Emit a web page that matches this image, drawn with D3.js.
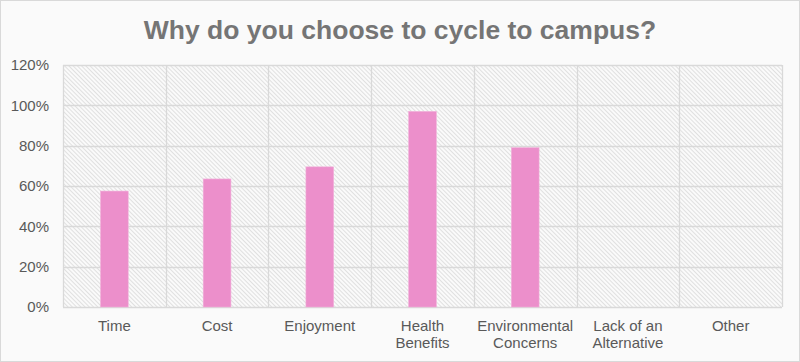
<!DOCTYPE html>
<html>
<head>
<meta charset="utf-8">
<script src="https://cdnjs.cloudflare.com/ajax/libs/d3/7.8.5/d3.min.js"></script>
<style>
  html, body { margin: 0; padding: 0; background: #fff; }
  svg { display: block; font-family: "Liberation Sans", Arial, sans-serif; }
</style>
</head>
<body>
<div id="chart"></div>
<script>
const categories = [
  ['Time'],
  ['Cost'],
  ['Enjoyment'],
  ['Health', 'Benefits'],
  ['Environmental', 'Concerns'],
  ['Lack of an', 'Alternative'],
  ['Other']
];
const values = [0.575, 0.635, 0.695, 0.97, 0.79, 0, 0];
const yTicks = [0, 0.2, 0.4, 0.6, 0.8, 1.0, 1.2];

const width = 800, height = 362;
const margin = { top: 65, right: 18, bottom: 55, left: 63 };

const svg = d3.select('#chart').append('svg')
    .attr('width', width)
    .attr('height', height);

// hatching used in the plot area
const defs = svg.append('defs');
defs.append('pattern')
    .attr('id', 'plotHatch')
    .attr('patternUnits', 'userSpaceOnUse')
    .attr('width', 3)
    .attr('height', 3)
    .attr('patternTransform', 'rotate(-45)')
    .append('rect')
    .attr('x', 0)
    .attr('y', 0)
    .attr('width', 1)
    .attr('height', 3)
    .attr('fill', '#e0e0e0');

svg.append('rect')
    .attr('x', 0.5).attr('y', 0.5)
    .attr('width', width - 1).attr('height', height - 1)
    .attr('fill', '#fafafa')
    .attr('stroke', '#d9d9d9');

svg.append('text')
    .attr('x', width / 2)
    .attr('y', 39)
    .attr('text-anchor', 'middle')
    .style('font-size', '26.5px')
    .style('font-weight', 'bold')
    .style('fill', '#757575')
    .text('Why do you choose to cycle to campus?');

const innerW = width - margin.left - margin.right;
const innerH = height - margin.top - margin.bottom;

const g = svg.append('g')
    .attr('transform', `translate(${margin.left},${margin.top})`);

const x = d3.scaleBand()
    .domain(d3.range(categories.length))
    .range([0, innerW]);

const y = d3.scaleLinear()
    .domain([0, 1.2])
    .range([innerH, 0]);

g.append('rect')
    .attr('width', innerW)
    .attr('height', innerH)
    .attr('fill', 'url(#plotHatch)');

// horizontal gridlines
g.selectAll('line.hgrid')
    .data(yTicks)
    .enter().append('line')
    .attr('class', 'hgrid')
    .attr('x1', 0).attr('x2', innerW)
    .attr('y1', d => Math.round(y(d)) + 0.5)
    .attr('y2', d => Math.round(y(d)) + 0.5)
    .attr('stroke', '#d9d9d9')
    .attr('stroke-width', 1.3);

// vertical gridlines at category boundaries
g.selectAll('line.vgrid')
    .data(d3.range(categories.length + 1))
    .enter().append('line')
    .attr('class', 'vgrid')
    .attr('x1', d => Math.round(d * x.step()) + 0.5)
    .attr('x2', d => Math.round(d * x.step()) + 0.5)
    .attr('y1', 0).attr('y2', innerH)
    .attr('stroke', '#d9d9d9')
    .attr('stroke-width', 1.3);

const barW = x.step() * 0.27;
g.selectAll('rect.bar')
    .data(values)
    .enter().append('rect')
    .attr('class', 'bar')
    .attr('x', (d, i) => x(i) + x.bandwidth() / 2 - barW / 2)
    .attr('y', d => y(d))
    .attr('width', barW)
    .attr('height', d => innerH - y(d))
    .attr('fill', '#ec8fcb')
    .attr('stroke', '#f2b3db')
    .attr('stroke-width', d => d > 0 ? 0.6 : 0);

// y axis labels
const yAxis = g.append('g')
    .call(d3.axisLeft(y).tickValues(yTicks).tickFormat(d3.format('.0%')).tickSize(0).tickPadding(14));
yAxis.select('.domain').remove();
yAxis.selectAll('text')
    .style('font-size', '15px')
    .style('font-family', '"Liberation Sans", Arial, sans-serif')
    .style('fill', '#595959');

// x axis labels
const xAxis = g.append('g')
    .attr('transform', `translate(0,${innerH})`)
    .call(d3.axisBottom(x).tickFormat('').tickSize(0));
xAxis.select('.domain').remove();
xAxis.selectAll('.tick').each(function(d) {
    const t = d3.select(this).append('text')
        .attr('text-anchor', 'middle')
        .style('font-size', '15px')
        .style('font-family', '"Liberation Sans", Arial, sans-serif')
        .style('fill', '#595959');
    categories[d].forEach((line, i) => {
        t.append('tspan')
            .attr('x', 0)
            .attr('y', 24 + i * 17)
            .text(line);
    });
});
</script>
</body>
</html>
